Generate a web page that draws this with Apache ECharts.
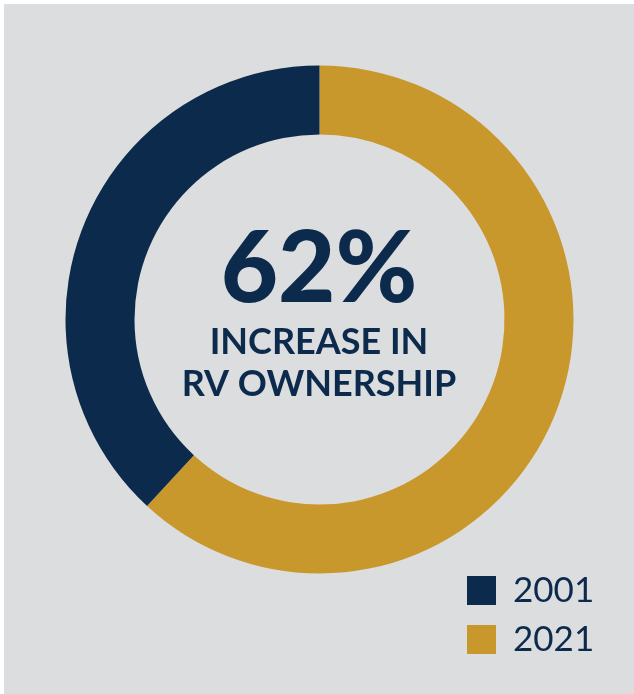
<!DOCTYPE html>
<html>
<head>
<meta charset="utf-8">
<script src="https://cdn.jsdelivr.net/npm/echarts@6/dist/echarts.min.js"></script>
<style>
    html, body { margin: 0; padding: 0; background: #ffffff; }
    #rv-chart {
        position: absolute;
        left: 4px;
        top: 4px;
        width: 630px;
        height: 690px;
    }
</style>
</head>
<body>
<div id="rv-chart"></div>
<script>
    // RV-owning households (millions)
    const years = ["2021", "2001"];
    const owners = [11.2, 6.9];
    const legendOrder = ["2001", "2021"];
    const headline = "62%";
    const subline = ["INCREASE IN", "RV OWNERSHIP"];

    const navy = "#0c2a4b";
    const gold = "#c9982c";

    let subTitles = subline.map((line, i) => ({
        text: line,
        left: "center",
        top: 315 + i * 42,
        textStyle: {
            color: navy,
            fontFamily: "Lato",
            fontWeight: 700,
            fontSize: 36
        }
    }));

    let chart = echarts.init(document.getElementById("rv-chart"));
    chart.setOption({
        backgroundColor: "#dcdddf",
        animation: false,
        color: [gold, navy],
        title: [
            {
                text: headline,
                left: "center",
                top: 212,
                textStyle: {
                    color: navy,
                    fontFamily: "Lato",
                    fontWeight: 900,
                    fontSize: 99
                }
            }
        ].concat(subTitles),
        legend: {
            data: legendOrder,
            orient: "vertical",
            left: 458,
            top: 564,
            itemWidth: 29,
            itemHeight: 29,
            itemGap: 14,
            icon: "rect",
            selectedMode: false,
            textStyle: {
                color: navy,
                fontFamily: "Lato",
                fontSize: 35,
                padding: [0, 0, 0, 12]
            }
        },
        series: [
            {
                type: "pie",
                center: [315.5, 315.5],
                radius: [185, 254],
                startAngle: 90,
                clockwise: true,
                silent: true,
                label: { show: false },
                labelLine: { show: false },
                data: years.map((y, i) => ({ name: y, value: owners[i] }))
            }
        ]
    });
</script>
</body>
</html>
